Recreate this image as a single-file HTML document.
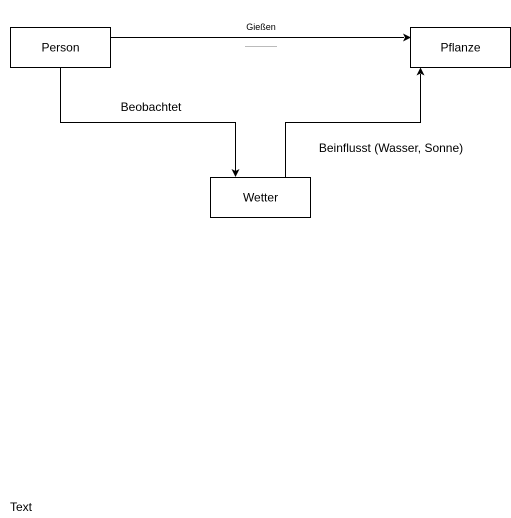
<!DOCTYPE html>
<html><head><style>body{margin:0;background:#fff}</style></head><body>
<svg width="511" height="518" xmlns="http://www.w3.org/2000/svg" style="display:block;font-family:'Liberation Sans',Arial,sans-serif">
<rect width="511" height="518" fill="#fff"/>
<g fill="#fff" stroke="#000" stroke-width="1">
<rect x="10.5" y="27.5" width="100" height="40"/>
<rect x="410.5" y="27.5" width="100" height="40"/>
<rect x="210.5" y="177.5" width="100" height="40"/>
</g>
<g fill="none" stroke="#000" stroke-width="1">
<path d="M110.5 37.5H404"/>
<path d="M60.5 67.5V122.5H235.5V171"/>
<path d="M285.5 177.5V122.5H420.5V74"/>
</g>
<g fill="#000">
<path d="M411 37.5L403 33.5L405 37.5L403 41.5Z"/>
<path d="M235.5 177L231.5 169L235.5 171L239.5 169Z"/>
<path d="M420.5 67.5L416.5 75.5L420.5 73.5L424.5 75.5Z"/>
</g>
<line x1="245" y1="46.5" x2="277" y2="46.5" stroke="#bbb" stroke-width="1"/>
<g font-size="12" fill="#000" text-anchor="middle">
<text x="60.5" y="51.5">Person</text>
<text x="460.5" y="51.5">Pflanze</text>
<text x="260.5" y="201.5">Wetter</text>
<text x="151" y="111">Beobachtet</text>
<text x="391" y="152">Beinflusst (Wasser, Sonne)</text>
<text x="261" y="30" font-size="9">Gießen</text>
</g>
<text x="10" y="511" font-size="12">Text</text>
</svg>
</body></html>
